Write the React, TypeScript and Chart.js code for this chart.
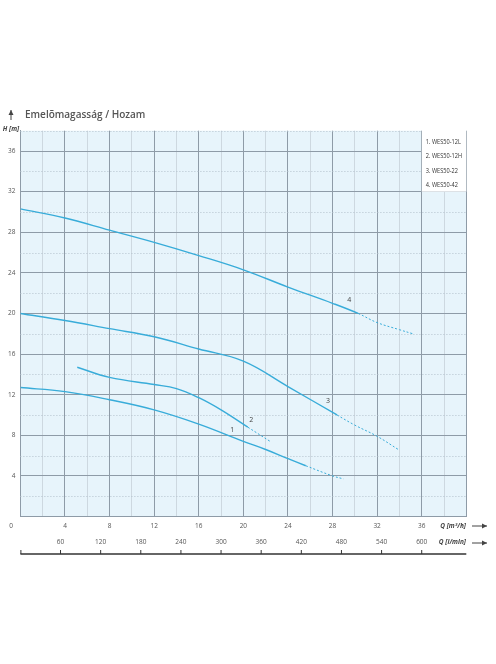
import { useEffect, useRef } from "react";
import { Chart, registerables } from "chart.js";

Chart.register(...registerables);

// series names as printed in the legend box
const SERIES = ["1. WES50-12L", "2. WES50-12H", "3. WES50-22", "4. WES50-42"];
const CURVE_NO = ["1", "2", "3", "4"];

// Q [m3/h] / H [m]
const Q_12L = [0, 4, 8, 12, 16, 20, 22, 24, 25.6, 28, 29];
const H_12L = [12.7, 12.3, 11.5, 10.5, 9.1, 7.4, 6.6, 5.7, 5.0, 4.0, 3.7];

const Q_12H = [5.1, 8, 12, 14, 16, 18, 20.4, 22.4];
const H_12H = [14.7, 13.7, 13.0, 12.6, 11.7, 10.5, 8.8, 7.4];

const Q_22 = [0, 4, 8, 12, 16, 20, 24, 28.4, 30, 32, 33.9];
const H_22 = [20.0, 19.3, 18.5, 17.7, 16.5, 15.3, 12.8, 10.0, 9.0, 7.9, 6.6];

const Q_42 = [0, 4, 8, 12, 16, 20, 24, 28, 30.3, 32, 34, 35.2];
const H_42 = [30.3, 29.4, 28.2, 27.0, 25.7, 24.3, 22.6, 21.0, 20.0, 19.1, 18.4, 18.0];

// flow where each curve turns dashed
const DASH_FROM = [25.6, 20.4, 28.4, 30.3];

// where the curve numbers sit (Q, H)
const NO_Q = [19.0, 20.7, 27.6, 29.5];
const NO_H = [8.5, 9.5, 11.4, 21.3];

// second flow scale, l/min
const LMIN_TICKS = [60, 120, 180, 240, 300, 360, 420, 480, 540, 600];
const LMIN_PER_M3H = 1000 / 60;

const CURVES = [
  [Q_12L, H_12L],
  [Q_12H, H_12H],
  [Q_22, H_22],
  [Q_42, H_42],
];

const BLUE = "#38acd9";
const MAJOR = "#8e9ba7";
const MINOR = "#cdd8e0";
const FONT = "'Open Sans', sans-serif";

function arrow(ctx: CanvasRenderingContext2D, x1: number, y1: number, x2: number, y2: number) {
  const a = Math.atan2(y2 - y1, x2 - x1);
  ctx.beginPath();
  ctx.moveTo(x1, y1);
  ctx.lineTo(x2, y2);
  ctx.stroke();
  ctx.beginPath();
  ctx.moveTo(x2, y2);
  ctx.lineTo(x2 - 5 * Math.cos(a) + 2.5 * Math.sin(a), y2 - 5 * Math.sin(a) - 2.5 * Math.cos(a));
  ctx.lineTo(x2 - 5 * Math.cos(a) - 2.5 * Math.sin(a), y2 - 5 * Math.sin(a) + 2.5 * Math.cos(a));
  ctx.closePath();
  ctx.fill();
}

const decor = {
  id: "decor",
  beforeDraw(chart: any) {
    const { ctx, chartArea: a } = chart;
    ctx.save();
    ctx.fillStyle = "#e7f4fb";
    ctx.fillRect(a.left, a.top, a.right - a.left, a.bottom - a.top);
    ctx.restore();
  },
  beforeDatasetsDraw(chart: any) {
    const { ctx, chartArea: a, scales } = chart;
    ctx.save();
    ctx.strokeStyle = "#b3c1cc";
    ctx.lineWidth = 1;
    ctx.setLineDash([1, 2]);
    for (let v = 2; v <= 38; v += 4) {
      const y = Math.round(scales.y.getPixelForValue(v)) + 0.5;
      ctx.beginPath();
      ctx.moveTo(a.left, y);
      ctx.lineTo(a.right, y);
      ctx.stroke();
    }
    ctx.restore();
  },
  afterDraw(chart: any) {
    const { ctx, chartArea: a, scales } = chart;
    const xs = scales.x;
    const ys = scales.y;
    ctx.save();

    // curve numbers
    ctx.fillStyle = "#444";
    ctx.font = `7px ${FONT}`;
    ctx.textAlign = "center";
    ctx.textBaseline = "middle";
    NO_Q.forEach((q, i) => {
      ctx.fillText(CURVE_NO[i], xs.getPixelForValue(q), ys.getPixelForValue(NO_H[i]));
    });

    // legend box
    const bx = a.right - 44.5;
    ctx.fillStyle = "#ffffff";
    ctx.fillRect(bx, a.top - 2, 44.5, 63);
    ctx.fillStyle = "#333";
    ctx.textAlign = "left";
    ctx.font = `7px ${FONT}`;
    SERIES.forEach((s, i) => {
      ctx.save();
      ctx.translate(bx + 4, a.top + 11 + i * 14.5);
      ctx.scale(0.8, 1);
      ctx.fillText(s, 0, 0);
      ctx.restore();
    });

    // title and axis names
    ctx.fillStyle = "#555";
    ctx.font = `600 10px ${FONT}`;
    ctx.fillText("Emelõmagasság / Hozam", 25, 115);
    ctx.strokeStyle = "#444";
    ctx.fillStyle = "#444";
    ctx.lineWidth = 1;
    arrow(ctx, 11, 120, 11, 110);

    ctx.font = `italic bold 6.5px ${FONT}`;
    ctx.textAlign = "center";
    ctx.fillText("H [m]", 11, 129.5);
    ctx.font = `6.5px ${FONT}`;
    ctx.fillStyle = "#555";
    ctx.fillText("0", 11, 526);

    ctx.fillStyle = "#444";
    ctx.font = `italic bold 6.5px ${FONT}`;
    ctx.textAlign = "right";
    ctx.fillText("Q [m\u00b3/h]", 466, 526);
    ctx.fillText("Q [l/min]", 466, 542.5);
    arrow(ctx, 472, 526, 487, 526);
    arrow(ctx, 472, 543, 487, 543);

    // l/min scale
    const ly = 554;
    ctx.strokeStyle = "#333";
    ctx.lineWidth = 1.5;
    ctx.beginPath();
    ctx.moveTo(a.left, ly);
    ctx.lineTo(a.right, ly);
    ctx.stroke();
    ctx.lineWidth = 1;
    ctx.beginPath();
    ctx.moveTo(a.left + 0.5, ly);
    ctx.lineTo(a.left + 0.5, ly - 4);
    ctx.stroke();
    ctx.fillStyle = "#555";
    ctx.font = `6.5px ${FONT}`;
    ctx.textAlign = "center";
    LMIN_TICKS.forEach((t) => {
      const x = xs.getPixelForValue(t / LMIN_PER_M3H);
      ctx.beginPath();
      ctx.moveTo(x, ly);
      ctx.lineTo(x, ly - 4);
      ctx.stroke();
      ctx.fillText(String(t), x, 542.5);
    });
    ctx.restore();
  },
};

export default function App() {
  const canvasRef = useRef<HTMLCanvasElement>(null);
  const chartRef = useRef<Chart | null>(null);

  useEffect(() => {
    if (!canvasRef.current || chartRef.current) return;

    chartRef.current = new Chart(canvasRef.current, {
      type: "line",
      data: {
        datasets: CURVES.map(([q, h], i) => ({
          label: SERIES[i],
          data: q.map((x, k) => ({ x, y: h[k] })),
          borderColor: BLUE,
          borderWidth: 1.4,
          pointRadius: 0,
          fill: false,
          tension: 0.4,
          segment: {
            borderDash: (c: any) => (c.p0.parsed.x >= DASH_FROM[i] - 0.01 ? [2, 2] : undefined),
            borderWidth: (c: any) => (c.p0.parsed.x >= DASH_FROM[i] - 0.01 ? 1 : undefined),
          },
        })),
      },
      options: {
        responsive: false,
        animation: false,
        layout: { padding: { left: 0, top: 130.7, right: 29.7, bottom: 0 } },
        plugins: {
          legend: { display: false },
          tooltip: { enabled: false },
        },
        scales: {
          x: {
            type: "linear",
            min: 0,
            max: 40,
            afterFit: (s: any) => {
              s.height = 147.5;
            },
            ticks: {
              stepSize: 2,
              autoSkip: false,
              maxRotation: 0,
              padding: 6,
              color: "#555",
              font: { family: FONT, size: 6.5 },
              callback: (v: any) => (v % 4 === 0 && v > 0 && v < 40 ? String(v) : ""),
            },
            grid: {
              drawTicks: false,
              color: (c: any) => (c.tick && c.tick.value % 4 === 0 ? MAJOR : MINOR),
              lineWidth: 1,
            },
            border: { color: MAJOR, width: 1 },
          },
          y: {
            type: "linear",
            min: 0,
            max: 38,
            afterFit: (s: any) => {
              s.width = 20.4;
            },
            ticks: {
              stepSize: 2,
              autoSkip: false,
              padding: 5,
              color: "#555",
              font: { family: FONT, size: 6.5 },
              callback: (v: any) => (v % 4 === 0 && v > 0 && v <= 36 ? String(v) : ""),
            },
            grid: {
              drawTicks: false,
              color: (c: any) => (c.tick && c.tick.value % 4 === 0 ? MAJOR : "rgba(0,0,0,0)"),
              lineWidth: 1,
            },
            border: { color: MAJOR, width: 1 },
          },
        },
      },
      plugins: [decor],
    });

    return () => {
      chartRef.current?.destroy();
      chartRef.current = null;
    };
  }, []);

  return (
    <div style={{ position: "absolute", left: 0, top: 0, width: 496, height: 664, background: "#fff" }}>
      <canvas ref={canvasRef} width={496} height={664} style={{ display: "block" }} />
    </div>
  );
}
